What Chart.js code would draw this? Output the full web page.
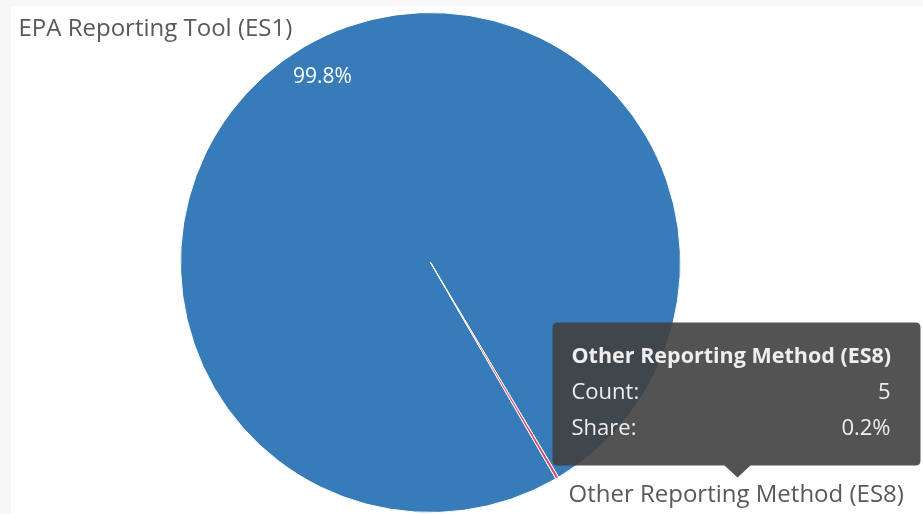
<!DOCTYPE html>
<html>
<head>
<meta charset="utf-8">
<script src="https://cdn.jsdelivr.net/npm/chart.js@4.4.1/dist/chart.umd.min.js"></script>
<style>
  html, body { margin: 0; padding: 0; background: #f7f7f7; overflow: hidden; }
  #wrap { position: absolute; left: 11px; top: 6px; width: 912px; height: 508px; background: #fff; }
</style>
</head>
<body>
<div id="wrap"><canvas id="pie"></canvas></div>
<script>
const categories = ['EPA Reporting Tool (ES1)', 'Other Reporting Method (ES8)'];
const counts = [2495, 5];
const colors = ['#377cb8', '#d24c7e'];
const shares = ['99.8%', '0.2%'];

const FONT = '"Open Sans", Lato, sans-serif';

// labels outside / inside the pie, plus the hover tooltip on ES8
const pieLabels = {
  id: 'pieLabels',
  afterDraw(chart) {
    const ctx = chart.ctx;
    const arc = chart.getDatasetMeta(0).data[0];
    const cx = arc.x, cy = arc.y;
    ctx.save();
    ctx.textBaseline = 'middle';

    ctx.fillStyle = '#595959';
    ctx.font = '24px ' + FONT;
    ctx.textAlign = 'left';
    ctx.fillText(categories[0], cx - 412, cy - 233);
    ctx.fillText(categories[1], cx + 138, cy + 233);

    ctx.fillStyle = '#ffffff';
    ctx.font = '21px ' + FONT;
    ctx.textAlign = 'center';
    ctx.fillText(shares[0], cx - 108, cy - 185);

    // tooltip
    const bx = cx + 122, by = cy + 60, bw = 368, bh = 143, r = 5;
    const tipX = cx + 307, tipY = cy + 215;
    ctx.fillStyle = 'rgba(64,64,64,0.9)';
    ctx.beginPath();
    ctx.moveTo(bx + r, by);
    ctx.lineTo(bx + bw - r, by);
    ctx.quadraticCurveTo(bx + bw, by, bx + bw, by + r);
    ctx.lineTo(bx + bw, by + bh - r);
    ctx.quadraticCurveTo(bx + bw, by + bh, bx + bw - r, by + bh);
    ctx.lineTo(tipX + 13, by + bh);
    ctx.lineTo(tipX, tipY);
    ctx.lineTo(tipX - 13, by + bh);
    ctx.lineTo(bx + r, by + bh);
    ctx.quadraticCurveTo(bx, by + bh, bx, by + bh - r);
    ctx.lineTo(bx, by + r);
    ctx.quadraticCurveTo(bx, by, bx + r, by);
    ctx.closePath();
    ctx.fill();

    const lx = bx + 19, rx = bx + bw - 30;
    ctx.fillStyle = '#eeeeee';
    ctx.textAlign = 'left';
    ctx.font = 'bold 21.5px ' + FONT;
    ctx.fillText(categories[1], lx, by + 34);
    ctx.font = '22px ' + FONT;
    ctx.fillText('Count:', lx, by + 70);
    ctx.fillText('Share:', lx, by + 106);
    ctx.textAlign = 'right';
    ctx.fillText(String(counts[1]), rx, by + 70);
    ctx.fillText(shares[1], rx, by + 106);
    ctx.restore();
  }
};

new Chart(document.getElementById('pie'), {
  type: 'pie',
  data: {
    labels: categories,
    datasets: [{
      data: counts,
      backgroundColor: colors,
      borderColor: '#ffffff',
      borderWidth: 1
    }]
  },
  options: {
    responsive: true,
    maintainAspectRatio: false,
    animation: false,
    rotation: 149.9,
    layout: { padding: { left: 169, right: 242, top: 6, bottom: 1 } },
    plugins: {
      legend: { display: false },
      tooltip: { enabled: false }
    },
    events: []
  },
  plugins: [pieLabels]
});
</script>
</body>
</html>
